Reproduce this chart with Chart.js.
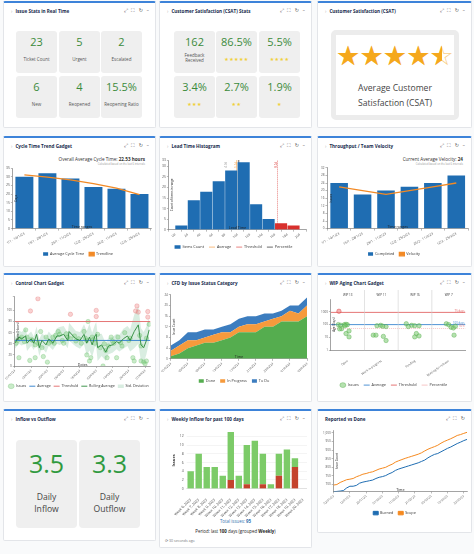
<!DOCTYPE html>
<html><head><meta charset="utf-8">
<script src="https://cdn.jsdelivr.net/npm/chart.js@4.4.1/dist/chart.umd.min.js"></script>
<style>
*{box-sizing:border-box}
body{margin:0;width:474px;height:554px;background:#f9fafb;font-family:"Open Sans",sans-serif;position:relative;overflow:hidden}
.panel{position:absolute;background:#fff;border:1px solid #e3e5e9;border-top:2px solid #3d83d9;border-radius:2px}
.ttl{position:absolute;left:7px;top:5px;font-size:4.6px;line-height:6px;font-weight:700;color:#172b4d;white-space:nowrap}
.ttl i{font-style:normal;color:#b0b0b0;margin-right:3px;font-weight:400}
.ico{position:absolute;right:6px;top:4px;font-size:5px;line-height:6px;color:#555;font-family:"DejaVu Sans";white-space:nowrap;word-spacing:2px}
.cw{position:absolute}
.box{position:absolute;background:#efefef;border-radius:3px;text-align:center;color:#555}
.box .n{position:absolute;left:0;right:0;color:#3b8b3b;font-size:11px;line-height:12px}
.box .l{position:absolute;left:0;right:0;font-size:4.5px;line-height:5.2px;color:#555}
.box .s{position:absolute;left:0;right:0;font-size:5px;line-height:6px;color:#f0cf3a;font-family:"DejaVu Sans";letter-spacing:.4px}
.txt{position:absolute;white-space:nowrap}
</style></head><body>
<script>
// ---------------- DATA ----------------
const issueStatValues = ["23","5","2","6","4","15.5%"];
const issueStatLabels = ["Ticket Count","Urgent","Escalated","New","Reopened","Reopening Ratio"];
const csatValues = ["162","86.5%","5.5%","3.4%","2.7%","1.9%"];
const csatStars = [0,5,4,3,2,1];
const avgCsat = 4.55;
const dailyInflow = "3.5";
const dailyOutflow = "3.3";

const cycleLabels = ["1/1 - 14/1/23","15/1 - 28/1/23","29/1 - 11/2/23","12/2 - 25/2/23","26/2 - 11/3/23","12/3 - 25/3/23"];
const cycleAvg = [30, 32, 29, 24, 23, 20];
const cycleTrend = [31, 29.7, 28.2, 26, 23.4, 19.6];

const leadBinTicks = ["0d","2d","4d","6d","8d","10d","12d","14d","16d","18d","20d"];
const leadCounts = [2, 14, 18, 23, 28, 32, 12, 5, 3, 2];
const leadAverage = 4.95, leadPercentile = 5.1, leadThreshold = 8.2;

const tpLabels = ["1/1 - 14/1/23","15/1 - 28/1/23","29/1 - 11/2/23","12/2 - 25/2/23","26/2 - 11/3/23","12/3 - 25/3/23"];
const tpCompleted = [24, 18, 20, 22, 24, 28];
const tpVelocity = [22, 20, 18, 20, 22, 24];

const ctTickLabels = ["01/01/23","07/01/23","13/01/23","19/01/23","25/01/23","31/01/23","06/02/23","12/02/23","18/02/23","24/02/23","02/03/23","08/03/23","14/03/23","20/03/23","26/03/23","01/04/23","07/04/23"];
const ctIssueDay = [1,2,3,4,5,7,8,9,11,11.5,13,15,15,17,17,19,20,21,23,24,25,27,28,29,32,33,35,36,39,41,41,44,47,49,51,53,53,54,55,56,57,59,60,60,61,63,65,67,68,69,71,73,75,76,79,81,84,87,88,89,90,91,93,93,95,96,97,98,98,99,12,30,38,45,52,58,66,72,78,85,92,97];
const ctIssueHours = [41,46,15,49,52,44,65,52,10,99,46,15,38,121,41,62,33,17,52,7,41,44,52,41,62,57,46,41,52,93,49,54,49,41,62,20,46,80,9,15,52,41,100,89,57,33,0,28,15,36,52,41,15,52,36,60,46,15,9,99,108,97,36,9,7,4,9,98,88,75,48,55,58,45,50,48,40,45,42,50,55,50];
const ctAverage = 46, ctThreshold = 80;
const rollDay = [0,3,5,8,9,12,14,16,18,20,23,25,28,31,33,36,39,40,43,45,48,51,53,55,57,59,60,61,64,67,69,72,75,77,80,83,85,88,91,93,95,97,99];
const rollAvg = [41,52,49,54,41,49,41,57,33,46,38,49,41,54,54,57,46,62,54,49,46,57,41,52,38,54,57,33,38,25,36,38,44,41,49,54,46,62,74,38,33,46,65];
const rollSd = [10,12,12,14,14,13,12,14,15,13,14,13,12,14,16,15,14,16,15,14,15,18,22,24,22,20,22,24,20,16,15,14,14,15,18,18,20,30,34,30,28,25,22];

const cfdDates = ["01/02/23","03/02/23","05/02/23","07/02/23","09/02/23","11/02/23","13/02/23","15/02/23","17/02/23","19/02/23","21/02/23","23/02/23","25/02/23","27/02/23","01/03/23","03/03/23","05/03/23"];
const cfdDone = [1,2,4,5,6,6,7,8,10,10,10,12,12,14,14,14,16];
const cfdInProgress = [2,3,3,2,2,3,3,2,2,3,3,2,3,2,4,3,4];
const cfdToDo = [2,2,3,3,3,2,2,3,3,3,3,3,2,2,2,3,3];

const wipStatuses = ["Open","Work in progress","Pending","Waiting for release"];
const wipCounts = ["WIP 13","WIP 11","WIP 16","WIP 7"];
const wipPos = [0.22,0.24,0.29,0.40,0.45,0.49,0.42,0.32,0.26,0.54,0.45,0.54, 1.37,1.48,1.54,1.64,1.26,1.34,1.56,1.64, 2.24,2.40,2.49,2.62,2.30,2.54,2.49,2.62, 3.43,3.50,3.57,3.64,3.70,3.66];
const wipAge = [100,1100,90,100,105,98,82,48,46,32,20,11, 82,88,75,70,15,15,12,5.7, 117,88,82,82,70,20,11,13, 117,100,62,55,75,15];
const wipAverage = 100, wipThreshold = 900, wipPercentile = 50;

const weekLabels = ["Week 6, 2023","Week 7, 2023","Week 8, 2023","Week 9, 2023","Week 10, 2023","Week 11, 2023","Week 12, 2023","Week 13, 2023","Week 14, 2023","Week 15, 2023","Week 16, 2023","Week 17, 2023","Week 18, 2023","Week 19, 2023","Week 20, 2023"];
const weekRed = [0,0,0,0,0,2,0,1,0,1,0,3,0,5,0];
const weekGreen = [4,8,5,5,3,11,3,9,11,7,1,5,9,2,0];
const totalIssues = 95;

const rvdDates = ["02/01/23","04/01/23","06/01/23","08/01/23","10/01/23","12/01/23","14/01/23","16/01/23","18/01/23","20/01/23","22/01/23","24/01/23","26/01/23","28/01/23","30/01/23","01/02/23","03/02/23","05/02/23","07/02/23","09/02/23","11/02/23","13/02/23","15/02/23","17/02/23","19/02/23","21/02/23","23/02/23","25/02/23","27/02/23","01/03/23","03/03/23","05/03/23","07/03/23","09/03/23","11/03/23","13/03/23","15/03/23","17/03/23","19/03/23","21/03/23","23/03/23","25/03/23"];
const rvdBurned = [658,660,662,665,680,690,690,695,708,714,718,722,726,735,742,746,752,762,770,782,790,796,802,808,814,820,826,834,842,855,866,875,880,890,900,910,918,928,938,946,955,962];
const rvdScope = [697,700,712,720,728,731,735,745,752,760,764,770,774,782,790,795,800,810,818,830,838,845,852,858,864,870,876,884,895,905,913,920,928,940,950,958,966,975,985,990,997,1003];

// ---------------- LAYOUT ----------------
function el(parent, cls, css, html){const d=document.createElement('div'); if(cls)d.className=cls; d.style.cssText=css||''; if(html!=null)d.innerHTML=html; (parent||document.body).appendChild(d); return d;}
const panels=[
 [3,1,153,127,"Issue Stats in Real Time"],
 [159,1,153,127,"Customer Satisfaction (CSAT) Stats"],
 [317,1,155,127,"Customer Satisfaction (CSAT)"],
 [3,136,153,131,"Cycle Time Trend Gadget"],
 [159,136,153,131,"Lead Time Histogram"],
 [317,136,155,131,"Throughput / Team Velocity"],
 [3,273,153,129,"Control Chart Gadget"],
 [159,273,153,129,"CFD by Issue Status Category"],
 [317,273,155,129,"WIP Aging Chart Gadget"],
 [3,409,153,132,"Inflow vs Outflow"],
 [159,409,153,139,"Weekly Inflow for past 100 days"],
 [317,409,155,124,"Reported vs Done"]];
panels.forEach((p,i)=>{
  const d=el(null,'panel',`left:${p[0]}px;top:${p[1]}px;width:${p[2]}px;height:${p[3]}px`);
  el(d,'ttl','',(i===11?'':'<i>›</i>')+p[4]);
  el(d,'ico','',i===11?'⤢ ⛶ ↻':'⤢ ⛶ ↻ –');
});
// Issue stats boxes
const bx1=[16,59,101], by1=[31,76];
issueStatValues.forEach((v,i)=>{
  const b=el(null,'box',`left:${bx1[i%3]}px;top:${by1[Math.floor(i/3)]}px;width:41px;height:42px`);
  el(b,'n','top:5px',v); el(b,'l','top:25.5px',issueStatLabels[i]);
});
// CSAT stats boxes
const bx2=[174,216,259];
csatValues.forEach((v,i)=>{
  const b=el(null,'box',`left:${bx2[i%3]}px;top:${by1[Math.floor(i/3)]}px;width:41px;height:42px`);
  el(b,'n','top:5px',v);
  if(csatStars[i]===0) el(b,'l','top:22px','Feedback<br>Received');
  else el(b,'s','top:25px','★'.repeat(csatStars[i]));
});
// Average CSAT big box
(function(){
  const b=el(null,'',`position:absolute;left:331px;top:30px;width:128px;height:90px;border:5px solid #ececec;border-radius:5px;background:#fff`);
  const s=el(b,'',`position:absolute;left:0px;top:8px;width:118px;height:26px;white-space:nowrap;font-family:"DejaVu Sans";font-size:27px;line-height:26px`);
  for(let k=0;k<5;k++){
    const frac=Math.max(0,Math.min(1,avgCsat-k));
    const st=el(s,'',`position:absolute;left:${k*23.4}px;top:0;width:24px;height:26px`);
    el(st,'',`position:absolute;left:0;top:0;color:#f8cf8a`,'☆');
    el(st,'',`position:absolute;left:0;top:0;overflow:hidden;width:${frac>=1?24:1.5+frac*20}px;color:#f5a81c`,'★');
  }
  el(b,'',`position:absolute;left:0;right:0;top:46px;text-align:center;font-size:8.6px;line-height:15px;color:#454545`,'Average Customer<br>Satisfaction (CSAT)');
})();
// Inflow vs outflow
[[16,dailyInflow,'Daily<br>Inflow'],[79,dailyOutflow,'Daily<br>Outflow']].forEach(a=>{
  const b=el(null,'box',`left:${a[0]}px;top:440px;width:61px;height:88px;border-radius:4px`);
  el(b,'',`position:absolute;left:0;right:0;top:8px;font-size:25px;line-height:30px;color:#2f9a3f`,a[1]);
  el(b,'',`position:absolute;left:0;right:0;top:52px;font-size:8.6px;line-height:11.5px;color:#454545`,a[2]);
});
// texts
el(null,'txt','right:329px;top:155.5px;font-size:4.6px;color:#333','Overall Average Cycle Time: <b>22.53 hours</b>');
el(null,'txt','right:329px;top:161.5px;font-size:2.6px;color:#999','Calculated based on the last 6 intervals');
el(null,'txt','right:11px;top:155.5px;font-size:4.6px;color:#333','Current Average Velocity: <b>24</b>');
el(null,'txt','right:11px;top:161.5px;font-size:2.6px;color:#999','Calculated based on the last 6 intervals');
el(null,'txt','left:159px;width:153px;text-align:center;top:518px;font-size:4.4px;color:#3572b0',`Total issues: <b>${totalIssues}</b>`);
el(null,'txt','left:159px;width:153px;text-align:center;top:527.5px;font-size:4.4px;color:#222','Period: last <b>100</b> days (grouped <b>Weekly</b>)');
el(null,'txt','left:165px;top:538px;font-size:3.6px;color:#777','⟳ 30 seconds ago');

function canvasAt(l,t,w,h){const d=el(null,'cw',`left:${l}px;top:${t}px;width:${w}px;height:${h}px`); const c=document.createElement('canvas'); d.appendChild(c); return c;}

// ---------------- CHART HELPERS ----------------
Chart.defaults.font.family="'Open Sans', sans-serif";
Chart.defaults.font.size=3.6;
Chart.defaults.color='#555';
const extras={id:'extras',afterDatasetsDraw(chart,args,o){
  const {ctx,chartArea:a,scales}=chart; ctx.save();
  ctx.fillStyle='#333';
  (o.vtexts||[]).forEach(v=>{const x=scales.x.getPixelForValue(v.value); ctx.save(); ctx.translate(x+v.dx,a.top+2); ctx.rotate(-Math.PI/2); ctx.font='2.8px Open Sans'; ctx.fillStyle=v.color; ctx.textAlign='right'; ctx.fillText(v.text,0,0); ctx.restore();});
  (o.htexts||[]).forEach(v=>{const y=scales.y.getPixelForValue(v.value); ctx.font='2.8px Open Sans'; ctx.fillStyle=v.color; ctx.textAlign='right'; ctx.fillText(v.text,a.right-1,y-1);});
  if(o.xTitle){ctx.font='3.6px Open Sans'; ctx.fillStyle='#222'; ctx.textAlign='center'; ctx.fillText(o.xTitle,(a.left+a.right)/2,a.bottom-1.5);}
  if(o.yTitle){ctx.save(); ctx.translate(a.left+3.5,(a.top+a.bottom)/2); ctx.rotate(-Math.PI/2); ctx.font='3px Open Sans'; ctx.fillStyle='#222'; ctx.textAlign='center'; ctx.fillText(o.yTitle,0,0); ctx.restore();}
  if(o.seps){ctx.strokeStyle='#cfcfcf'; ctx.lineWidth=0.6; o.seps.forEach(s=>{const x=scales.x.getPixelForValue(s); ctx.beginPath(); ctx.moveTo(x,a.top-9); ctx.lineTo(x,a.bottom); ctx.stroke();});}
  if(o.heads){ctx.font='3px Open Sans'; ctx.fillStyle='#333'; ctx.textAlign='center'; o.heads.forEach((h,i)=>ctx.fillText(h,scales.x.getPixelForValue(i+0.5),a.top-4));}
  ctx.restore();
}};
Chart.register(extras);
const legendOpts=(ups,pad)=>({display:true,position:'bottom',labels:{boxWidth:5,boxHeight:3.5,padding:pad||5,font:{size:3.8},color:'#333',usePointStyle:!!ups,pointStyleWidth:6,sort:(a,b)=>a.datasetIndex-b.datasetIndex}});
const axisGrid={display:true,drawOnChartArea:false,tickLength:2,color:'#777',lineWidth:0.5};
const axisBorder={color:'#666',width:0.6};
function base(extra){return Object.assign({responsive:true,maintainAspectRatio:false,animation:false,events:[]},extra);}

// ---------------- CHART 1: Cycle Time ----------------
new Chart(canvasAt(5,165,150,101),{type:'bar',
 data:{labels:cycleLabels,datasets:[
  {label:'Average Cycle Time',data:cycleAvg,backgroundColor:'#1f6db2',barPercentage:0.78,categoryPercentage:1,order:1},
  {type:'line',label:'Trendline',data:cycleTrend,borderColor:'#f28a26',backgroundColor:'#f28a26',borderWidth:1.3,pointRadius:0,order:0}]},
 options:base({layout:{padding:{right:4}},plugins:{legend:legendOpts(false),tooltip:{enabled:false},extras:{xTitle:'Time ranges',yTitle:'Days'}},
  scales:{x:{grid:axisGrid,border:axisBorder,ticks:{minRotation:30,maxRotation:30,font:{size:3.4},padding:1}},
          y:{min:0,max:35,grid:axisGrid,border:axisBorder,ticks:{stepSize:5,font:{size:3.4},padding:1}}}})});

// ---------------- CHART 2: Lead Time ----------------
new Chart(canvasAt(161,157,150,102),{type:'bar',
 data:{datasets:[
  {label:'Items Count',data:leadCounts.map((c,i)=>({x:i+0.5,y:c})),backgroundColor:leadCounts.map((c,i)=>i+0.5>leadThreshold?'#d8302d':'#1f6db2'),barPercentage:0.97,categoryPercentage:1,pointStyle:'rect'},
  {type:'line',label:'Average',data:[{x:leadAverage,y:0},{x:leadAverage,y:33}],borderColor:'#f5a04a',borderWidth:0.7,pointRadius:0,pointStyle:'line'},
  {type:'line',label:'Threshold',data:[{x:leadThreshold,y:0},{x:leadThreshold,y:33}],borderColor:'#d8302d',borderWidth:0.6,borderDash:[1,1],pointRadius:0,pointStyle:'line'},
  {type:'line',label:'Percentile',data:[{x:leadPercentile,y:0},{x:leadPercentile,y:33}],borderColor:'#888',borderWidth:1.3,pointRadius:0,pointStyle:'line'}]},
 options:base({layout:{padding:{right:5,top:2}},plugins:{legend:legendOpts(true),tooltip:{enabled:false},extras:{xTitle:'Lead Time',yTitle:'Count of items in range',
   vtexts:[{value:leadAverage,dx:-11,text:'4.9d',color:'#999'},{value:leadAverage,dx:-1,text:'5.1d',color:'#f5a04a'},{value:leadThreshold,dx:-1,text:'8.2d',color:'#d8302d'}]}},
  scales:{x:{type:'linear',min:0,max:10,grid:axisGrid,border:axisBorder,ticks:{stepSize:1,minRotation:40,maxRotation:40,font:{size:3.2},padding:1,callback:v=>leadBinTicks[v]}},
          y:{min:0,max:33,grid:axisGrid,border:axisBorder,ticks:{stepSize:5,font:{size:3.4},padding:1}}}})});

// ---------------- CHART 3: Throughput ----------------
new Chart(canvasAt(320,165,150,101),{type:'bar',
 data:{labels:tpLabels,datasets:[
  {label:'Completed',data:tpCompleted,backgroundColor:'#1f6db2',barPercentage:0.75,categoryPercentage:1,order:1},
  {type:'line',label:'Velocity',data:tpVelocity,borderColor:'#f28a26',backgroundColor:'#f28a26',borderWidth:1.3,pointRadius:0,order:0}]},
 options:base({layout:{padding:{right:2}},plugins:{legend:legendOpts(false),tooltip:{enabled:false},extras:{xTitle:'Time ranges',yTitle:'Issues'}},
  scales:{x:{grid:axisGrid,border:axisBorder,ticks:{minRotation:30,maxRotation:30,font:{size:3.4},padding:1}},
          y:{min:0,max:32,grid:axisGrid,border:axisBorder,ticks:{stepSize:2,font:{size:3},padding:1}}}})});

// ---------------- CHART 4: Control chart ----------------
const ctLegend=legendOpts(true,3); ctLegend.labels.filter=l=>l.text!=='lower'; ctLegend.labels.font={size:3.6};
new Chart(canvasAt(5,292,150,106),{type:'scatter',
 data:{datasets:[
  {label:'Issues',data:ctIssueDay.map((d,i)=>({x:d,y:ctIssueHours[i]})),pointRadius:2.2,pointStyle:'circle',
   backgroundColor:ctIssueHours.map(v=>v>ctThreshold?'rgba(240,140,140,0.4)':'rgba(120,205,120,0.4)'),
   borderColor:ctIssueHours.map(v=>v>ctThreshold?'rgba(225,110,110,0.6)':'rgba(90,180,90,0.5)'),borderWidth:0.5,order:3},
  {type:'line',label:'Average',data:[{x:0,y:ctAverage},{x:100,y:ctAverage}],borderColor:'#3d88d0',borderWidth:1,pointRadius:0,pointStyle:'line',order:2},
  {type:'line',label:'Threshold',data:[{x:0,y:ctThreshold},{x:100,y:ctThreshold}],borderColor:'#e26666',borderWidth:0.9,pointRadius:0,pointStyle:'line',order:2},
  {type:'line',label:'Rolling Average',data:rollDay.map((d,i)=>({x:d,y:rollAvg[i]})),borderColor:'#2a8a3a',borderWidth:0.9,pointRadius:0,pointStyle:'line',order:1},
  {type:'line',label:'Std. Deviation',data:rollDay.map((d,i)=>({x:d,y:rollAvg[i]+rollSd[i]})),borderWidth:0,backgroundColor:'rgba(160,210,180,0.4)',fill:'+1',pointRadius:0,pointStyle:'rect',order:4},
  {type:'line',label:'lower',data:rollDay.map((d,i)=>({x:d,y:Math.max(0,rollAvg[i]-rollSd[i])})),borderWidth:0,pointRadius:0,order:4}]},
 options:base({layout:{padding:{right:3}},plugins:{legend:ctLegend,tooltip:{enabled:false},
   extras:{xTitle:'Dates',yTitle:'Time (Hours)'}},
  scales:{x:{type:'linear',min:0,max:100,grid:axisGrid,border:axisBorder,ticks:{stepSize:6,minRotation:45,maxRotation:45,font:{size:3},padding:1,callback:v=>ctTickLabels[v/6]}},
          y:{min:0,max:125,grid:axisGrid,border:axisBorder,ticks:{stepSize:10,font:{size:3},padding:1,callback:v=>v%10===0&&v<=120?v:''}}}})});

// ---------------- CHART 5: CFD ----------------
new Chart(canvasAt(161,292,150,101),{type:'line',
 data:{labels:cfdDates,datasets:[
  {label:'Done',data:cfdDone,backgroundColor:'#55ad4f',borderColor:'#55ad4f',borderWidth:0,fill:'origin',pointRadius:0,pointStyle:'rect'},
  {label:'In Progress',data:cfdInProgress,backgroundColor:'#f69a3c',borderColor:'#f69a3c',borderWidth:0,fill:'-1',pointRadius:0,pointStyle:'rect'},
  {label:'To Do',data:cfdToDo,backgroundColor:'#3c7dbf',borderColor:'#3c7dbf',borderWidth:0,fill:'-1',pointRadius:0,pointStyle:'rect'}]},
 options:base({layout:{padding:{right:4}},plugins:{legend:legendOpts(false),tooltip:{enabled:false},extras:{xTitle:'Time',yTitle:'Issue Count'}},
  scales:{x:{grid:axisGrid,border:axisBorder,ticks:{minRotation:45,maxRotation:45,font:{size:3},padding:1,autoSkip:true,maxTicksLimit:9}},
          y:{stacked:true,min:0,max:24,grid:axisGrid,border:axisBorder,ticks:{stepSize:2,font:{size:3},padding:1}}}})});

// ---------------- CHART 6: WIP Aging ----------------
new Chart(canvasAt(320,288,150,109),{type:'scatter',
 data:{datasets:[
  {label:'Issues',data:wipPos.map((x,i)=>({x:x,y:wipAge[i]})),pointRadius:2.2,pointStyle:'circle',
   backgroundColor:wipAge.map(v=>v>wipThreshold?'rgba(240,130,130,0.6)':'rgba(120,200,110,0.55)'),
   borderColor:wipAge.map(v=>v>wipThreshold?'rgba(215,60,60,0.9)':'rgba(80,170,70,0.8)'),borderWidth:0.5},
  {type:'line',label:'Average',data:[{x:0,y:wipAverage},{x:4,y:wipAverage}],borderColor:'#3d88d0',borderWidth:0.9,pointRadius:0,pointStyle:'line'},
  {type:'line',label:'Threshold',data:[{x:0,y:wipThreshold},{x:4,y:wipThreshold}],borderColor:'#e26666',borderWidth:0.9,pointRadius:0,pointStyle:'line'},
  {type:'line',label:'Percentile',data:[{x:0,y:wipPercentile},{x:4,y:wipPercentile}],borderColor:'#f0a0a0',borderWidth:0.6,borderDash:[1,1],pointRadius:0,pointStyle:'line'}]},
 options:base({layout:{padding:{top:11,right:3}},plugins:{legend:legendOpts(true),tooltip:{enabled:false},
   extras:{seps:[1,2,3],heads:wipCounts,yTitle:'Age (Days)',htexts:[{value:wipThreshold,text:'75 days',color:'#e26666'},{value:wipAverage,text:'100 days',color:'#3d88d0'},{value:wipPercentile*1.15,text:'50%',color:'#e88'}]}},
  scales:{x:{type:'linear',min:0,max:4,grid:{display:false},border:axisBorder,
     afterBuildTicks:s=>{s.ticks=[0.5,1.5,2.5,3.5].map(v=>({value:v}));},
     ticks:{minRotation:35,maxRotation:35,font:{size:3},padding:1,callback:(v,i)=>wipStatuses[i]}},
   y:{type:'logarithmic',min:1,max:10000,grid:axisGrid,border:axisBorder,
     afterBuildTicks:s=>{s.ticks=[1,10,100,1000].map(v=>({value:v}));},
     ticks:{font:{size:3},padding:1,callback:v=>String(v)}}}})});

// ---------------- CHART 7: Weekly inflow ----------------
new Chart(canvasAt(170,427,137,92),{type:'bar',
 data:{labels:weekLabels,datasets:[
  {label:'Bugs',data:weekRed,backgroundColor:'#c4432c',barPercentage:0.8,categoryPercentage:1},
  {label:'Issues',data:weekGreen,backgroundColor:'#7ccb68',barPercentage:0.8,categoryPercentage:1}]},
 options:base({plugins:{legend:{display:false},tooltip:{enabled:false}},
  scales:{x:{stacked:true,grid:{display:false},border:{color:'#ccc',width:0.5},ticks:{minRotation:45,maxRotation:45,autoSkip:false,font:{size:3.6},color:'#444',padding:1}},
          y:{stacked:true,min:0,max:13,grid:{color:'#e8e8e8',lineWidth:0.5,tickLength:0},border:{display:false},
             title:{display:true,text:'Issues',font:{size:4,weight:'bold'},color:'#333',padding:1},
             ticks:{stepSize:1,font:{size:3.4},padding:3,callback:v=>v%2===0?v:''}}}})});

// ---------------- CHART 8: Reported vs Done ----------------
new Chart(canvasAt(322,428,148,97),{type:'line',
 data:{labels:rvdDates,datasets:[
  {label:'Burned',data:rvdBurned,borderColor:'#1f6db2',backgroundColor:'#1f6db2',borderWidth:1,pointRadius:0,pointStyle:'rect'},
  {label:'Scope',data:rvdScope,borderColor:'#f5891f',backgroundColor:'#f5891f',borderWidth:1,pointRadius:0,pointStyle:'rect'}]},
 options:base({layout:{padding:{right:3}},plugins:{legend:legendOpts(false),tooltip:{enabled:false},extras:{xTitle:'Time',yTitle:'Issue Count'}},
  scales:{x:{grid:axisGrid,border:axisBorder,ticks:{minRotation:40,maxRotation:40,font:{size:3},padding:1,autoSkip:true,maxTicksLimit:9}},
          y:{min:660,max:1012,grid:axisGrid,border:axisBorder,
             afterBuildTicks:s=>{s.ticks=[700,750,800,850,900,950,1000].map(v=>({value:v}));},
             ticks:{font:{size:3},padding:1}}}})});
</script>
</body></html>
